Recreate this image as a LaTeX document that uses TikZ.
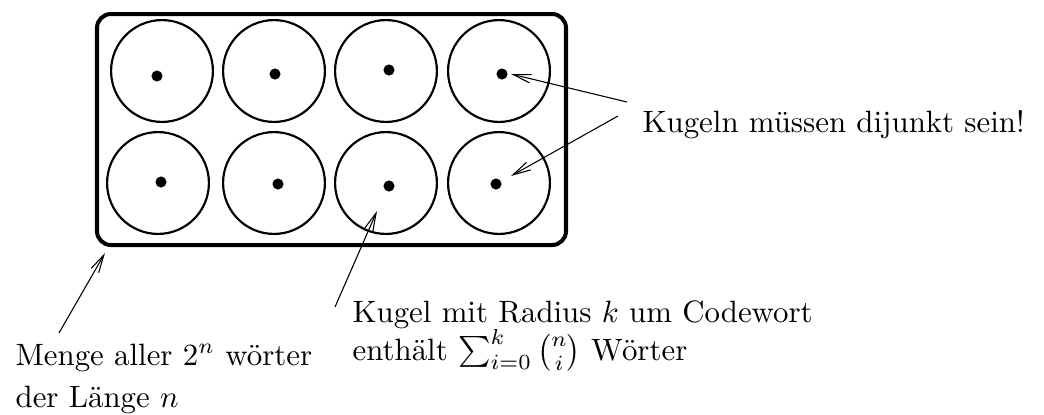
\documentclass[tikz,border=0pt]{standalone}
\usepackage{fontspec}
\usepackage{amsmath}
\usetikzlibrary{arrows.meta}
\begin{document}
\begin{tikzpicture}[x=0.324pt,y=-0.324pt,
  ball/.style={circle,draw,line width=0.7pt,minimum size=33pt,inner sep=0pt},
  cw/.style={circle,fill,minimum size=3.6pt,inner sep=0pt},
  lbl/.style={anchor=base west,inner sep=0pt,font=\fontsize{10pt}{12pt}\selectfont,align=left},
  pointer/.style={line width=0.35pt,-{Straight Barb[length=5.8pt,width=2.8pt]}}]
\useasboundingbox (0,0) rectangle (1044,414);
% the set of all words
\draw[line width=1.3pt,rounded corners=4.5pt] (97,14) rectangle (566,245);
\coordinate (boxcorner) at (105,253);
% balls
\node[ball] (b1) at (162,71) {};
\node[ball] (b2) at (274,71) {};
\node[ball] (b3) at (386,71) {};
\node[ball] (b4) at (499,71) {};
\node[ball] (b5) at (158,183) {};
\node[ball] (b6) at (274,183) {};
\node[ball] (b7) at (386,183) {};
\node[ball] (b8) at (499,183) {};
% code words
\node[cw] (c1) at (157,76) {};
\node[cw] (c2) at (275,74) {};
\node[cw] (c3) at (389,70) {};
\node[cw] (c4) at (502,74) {};
\node[cw] (c5) at (161,182) {};
\node[cw] (c6) at (278,184) {};
\node[cw] (c7) at (389,186) {};
\node[cw] (c8) at (496,184) {};
% labels (base anchor = baseline of last line)
\node[lbl] (disj) at (642,132) {Kugeln müssen dijunkt sein!};
\node[lbl] (kugel) at (352,360) {Kugel mit Radius $k$ um Codewort\\[0.3pt]enthält $\sum_{i=0}^{k}\binom{n}{i}$ Wörter};
\node[lbl] (menge) at (15,407) {Menge aller $2^n$ wörter\\[1.6pt]der Länge $n$};
% pointer ends
\coordinate (t1) at (627,102);
\coordinate (t2) at (618,116);
\coordinate (h1) at (511,74);
\coordinate (h2) at (511,176);
\coordinate (t3) at (335,307);
\coordinate (h3) at (377,211);
\coordinate (t4) at (59,333);
\draw[pointer] (t1) -- (h1);
\draw[pointer] (t2) -- (h2);
\draw[pointer] (t3) -- (h3);
\draw[pointer] (t4) -- (boxcorner);
\end{tikzpicture}
\end{document}
